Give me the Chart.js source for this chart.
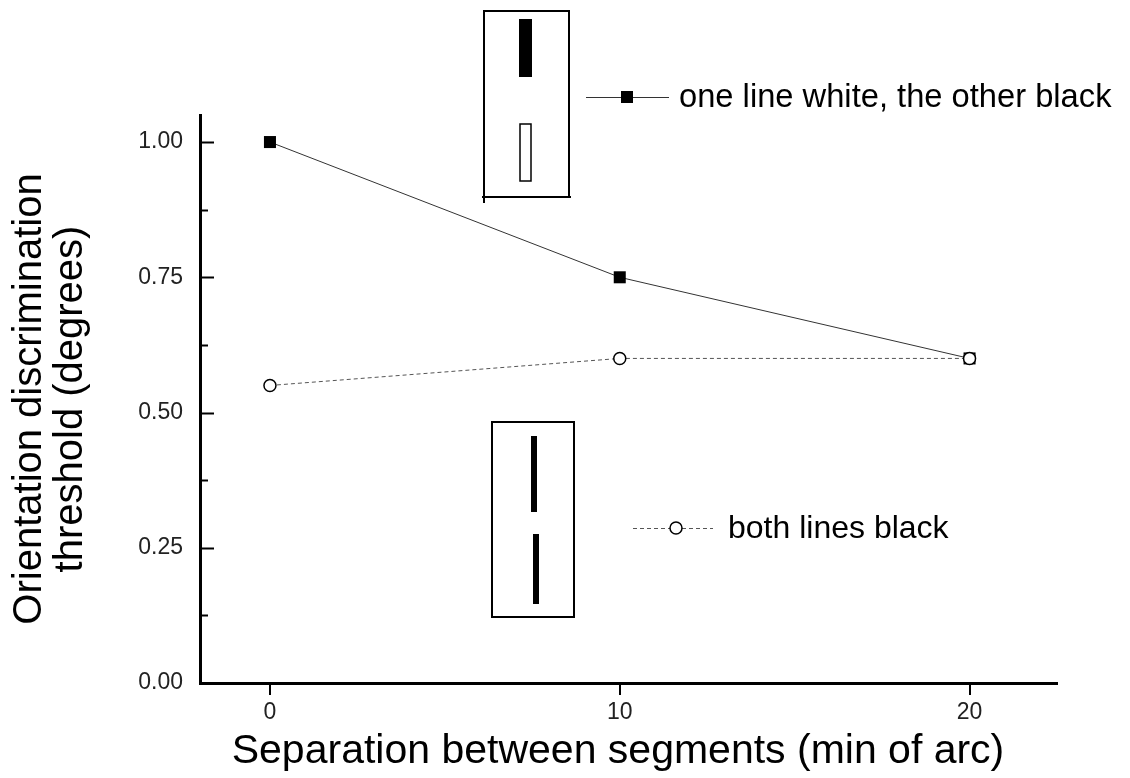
<!DOCTYPE html>
<html lang="en">
<head>
    <meta charset="UTF-8">
    <title>Orientation discrimination threshold</title>
    <style>
        body {
            margin: 0;
            padding: 0;
            background-color: #fff;
        }

        .wrap {
            position: relative;
            width: 1130px;
            height: 778px;
        }
    </style>
</head>
<body>
    <div class="wrap">
        <canvas id="chart"></canvas>
    </div>

    <script src="https://cdn.jsdelivr.net/npm/chart.js"></script>
    <script>
        // Data
        const separation = [0, 10, 20];
        const whiteBlack = [1.00, 0.75, 0.60];
        const bothBlack = [0.55, 0.60, 0.60];
        const xTicks = [0, 10, 20];
        const yTicks = [0, 0.25, 0.50, 0.75, 1.00];
        const yMinorTicks = [0.125, 0.375, 0.625, 0.875];
        const seriesNames = ['one line white, the other black', 'both lines black'];
        const xTitle = 'Separation between segments (min of arc)';
        const yTitle = ['Orientation discrimination', 'threshold (degrees)'];

        const FONT = "'Liberation Sans', Arial, sans-serif";

        // draws a single marker like the ones in the plot
        function marker(ctx, kind, x, y) {
            ctx.save();
            if (kind === 'square') {
                ctx.fillStyle = '#000';
                ctx.fillRect(x - 6, y - 6, 12, 12);
            } else {
                ctx.beginPath();
                ctx.arc(x, y, 6, 0, Math.PI * 2);
                ctx.fillStyle = '#fff';
                ctx.fill();
                ctx.lineWidth = 1.5;
                ctx.strokeStyle = '#000';
                ctx.stroke();
            }
            ctx.restore();
        }

        // Inward y ticks, insets, in-plot legend and axis titles
        const decor = {
            id: 'decor',
            afterDraw(chart) {
                const ctx = chart.ctx;
                const y = chart.scales.y;
                const area = chart.chartArea;
                ctx.save();
                ctx.strokeStyle = '#000';

                // y ticks point into the plot
                ctx.lineWidth = 2;
                yTicks.forEach(v => {
                    const py = Math.round(y.getPixelForValue(v)) + 0.5;
                    ctx.beginPath();
                    ctx.moveTo(area.left, py);
                    ctx.lineTo(area.left + 14, py);
                    ctx.stroke();
                });
                yMinorTicks.forEach(v => {
                    const py = Math.round(y.getPixelForValue(v)) + 0.5;
                    ctx.beginPath();
                    ctx.moveTo(area.left, py);
                    ctx.lineTo(area.left + 8, py);
                    ctx.stroke();
                });

                // top inset: black bar over white bar
                ctx.lineWidth = 2;
                ctx.beginPath();
                ctx.moveTo(484, 203); ctx.lineTo(484, 11); ctx.lineTo(569, 11);
                ctx.lineTo(569, 197);
                ctx.moveTo(482, 197); ctx.lineTo(571, 197);
                ctx.stroke();
                ctx.fillStyle = '#000';
                ctx.fillRect(519, 19, 13, 58);
                ctx.lineWidth = 1.5;
                ctx.strokeRect(520, 124, 11, 57);

                // bottom inset: two black bars
                ctx.lineWidth = 2;
                ctx.strokeRect(492, 422, 82, 195);
                ctx.fillRect(531, 436, 6, 76);
                ctx.fillRect(533, 534, 6, 70);

                // legend entries
                ctx.lineWidth = 1;
                ctx.strokeStyle = '#333';
                ctx.beginPath();
                ctx.moveTo(586, 97.5); ctx.lineTo(669, 97.5);
                ctx.stroke();
                marker(ctx, 'square', 627, 97);

                ctx.setLineDash([4, 3]);
                ctx.strokeStyle = '#555';
                ctx.beginPath();
                ctx.moveTo(633, 528.5); ctx.lineTo(713, 528.5);
                ctx.stroke();
                ctx.setLineDash([]);
                marker(ctx, 'circle', 676, 528);

                ctx.fillStyle = '#000';
                ctx.font = '32.7px ' + FONT;
                ctx.textBaseline = 'middle';
                ctx.textAlign = 'left';
                ctx.fillText(seriesNames[0], 679, 98);
                ctx.font = '32px ' + FONT;
                ctx.fillText(seriesNames[1], 728, 529);

                // axis titles
                ctx.font = '41px ' + FONT;
                ctx.textAlign = 'center';
                ctx.fillText(xTitle, 618, 752);

                ctx.font = '40px ' + FONT;
                ctx.save();
                ctx.translate(30, (area.top + area.bottom) / 2);
                ctx.rotate(-Math.PI / 2);
                ctx.fillText(yTitle[0], 0, 0);
                ctx.fillText(yTitle[1], 0, 41);
                ctx.restore();

                ctx.restore();
            }
        };

        const ctx = document.getElementById('chart').getContext('2d');
        const chart = new Chart(ctx, {
            type: 'scatter',
            data: {
                datasets: [
                    {
                        label: seriesNames[0],
                        data: separation.map((x, i) => ({ x: x, y: whiteBlack[i] })),
                        showLine: true,
                        borderColor: '#333',
                        borderWidth: 1,
                        pointStyle: 'rect',
                        pointRadius: 8.5,
                        pointBackgroundColor: '#000',
                        pointBorderColor: '#000',
                        pointBorderWidth: 0,
                        order: 2
                    },
                    {
                        label: seriesNames[1],
                        data: separation.map((x, i) => ({ x: x, y: bothBlack[i] })),
                        showLine: true,
                        borderColor: '#555',
                        borderWidth: 1,
                        borderDash: [4, 3],
                        pointStyle: 'circle',
                        pointRadius: 6,
                        pointBackgroundColor: '#fff',
                        pointBorderColor: '#000',
                        pointBorderWidth: 1.5,
                        order: 1
                    }
                ]
            },
            options: {
                responsive: true,
                maintainAspectRatio: false,
                animation: false,
                layout: {
                    padding: { left: 0, top: 115, right: 73, bottom: 0 }
                },
                plugins: {
                    legend: { display: false },
                    tooltip: { enabled: false }
                },
                scales: {
                    x: {
                        type: 'linear',
                        min: -2,
                        max: 22.5,
                        afterBuildTicks: s => { s.ticks = xTicks.map(v => ({ value: v })); },
                        afterFit: s => { s.height = 95; },
                        border: { color: '#000', width: 3 },
                        grid: {
                            drawOnChartArea: false,
                            drawTicks: true,
                            tickLength: 12,
                            color: '#000',
                            lineWidth: 2
                        },
                        ticks: {
                            color: '#222',
                            padding: 4,
                            font: { family: FONT, size: 23 }
                        }
                    },
                    y: {
                        type: 'linear',
                        min: 0,
                        max: 1.05,
                        afterBuildTicks: s => { s.ticks = yTicks.map(v => ({ value: v })); },
                        afterFit: s => { s.width = 200; },
                        border: { color: '#000', width: 3 },
                        grid: {
                            drawOnChartArea: false,
                            drawTicks: false
                        },
                        ticks: {
                            color: '#222',
                            padding: 17,
                            font: { family: FONT, size: 23 },
                            callback: v => Number(v).toFixed(2)
                        }
                    }
                }
            },
            plugins: [decor]
        });
    </script>
</body>
</html>
